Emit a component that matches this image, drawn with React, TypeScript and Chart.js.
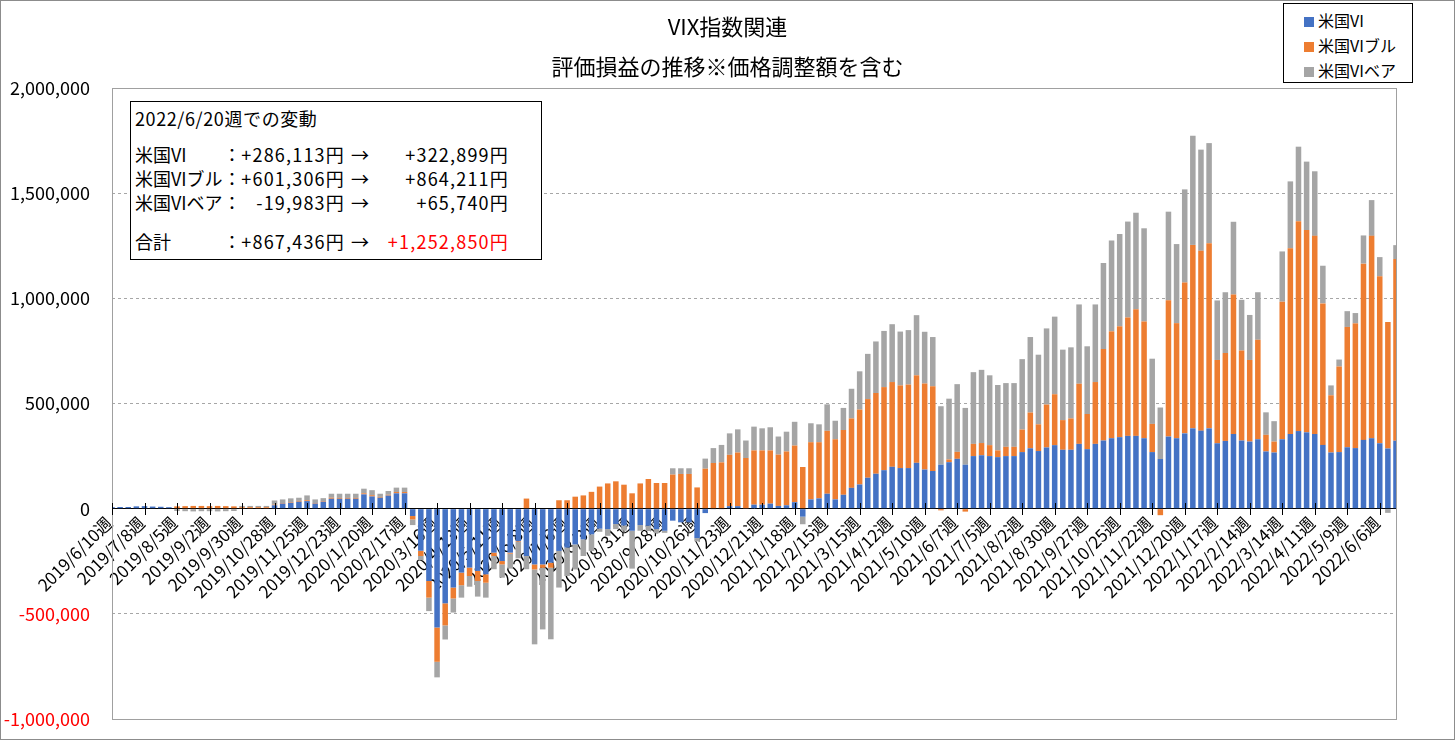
import { useEffect, useRef } from "react"
import { Chart, registerables } from "chart.js"

Chart.register(...registerables)

const FONT = "'Noto Sans CJK JP', 'Noto Sans', sans-serif"

// 週次カテゴリ（2019/6/10週〜2022/6/20週）
const categories: string[] = Array.from({ length: 159 }, (_, i) => {
  const d = new Date(Date.UTC(2019, 5, 10 + i * 7))
  return `${d.getUTCFullYear()}/${d.getUTCMonth() + 1}/${d.getUTCDate()}週`
})
const tickEvery = 4

const yTicks = [-1000000, -500000, 0, 500000, 1000000, 1500000, 2000000]

const seriesNames = ["米国VI", "米国VIブル", "米国VIベア"]
const seriesColors = ["#4472C4", "#ED7D31", "#A5A5A5"]

// 米国VI
const viValues = [
  7000, 8000, 8000, 11000, 12000, 10000, 9000, 7000, 0, 0,
  0, 0, 0, 0, 0, 0, 0, 0, 0, 0,
  16000, 24000, 28000, 33000, 36000, 24000, 33000, 47000, 47000, 47000,
  47000, 68000, 58000, 52000, 62000, 73000, 73000, -35000, -200000, -344000,
  -565000, -450000, -375000, -304000, -280000, -296000, -312000, -209000, -249000, -209000,
  -154000, -225000, -265000, -265000, -257000, -201000, -185000, -170000, -146000, -122000,
  -95000, -97000, -73000, -80000, -105000, -78000, -81000, -97000, -105000, -57000,
  -65000, -65000, -140000, -21000, -3000, -3000, 12000, 12000, 2000, 19000,
  19000, 24000, 13000, 16000, 31000, -38000, 44000, 49000, 71000, 44000,
  66000, 99000, 115000, 147000, 166000, 183000, 199000, 193000, 193000, 218000,
  186000, 179000, 209000, 221000, 237000, 209000, 250000, 254000, 250000, 245000,
  250000, 250000, 269000, 287000, 274000, 291000, 302000, 280000, 280000, 308000,
  283000, 308000, 324000, 335000, 340000, 346000, 346000, 335000, 269000, 236000,
  343000, 335000, 358000, 382000, 371000, 382000, 311000, 322000, 355000, 324000,
  319000, 330000, 272000, 267000, 330000, 355000, 369000, 363000, 355000, 303000,
  267000, 269000, 292000, 288000, 327000, 335000, 311000, 286113, 322899,
]

// 米国VIブル
const bullValues = [
  0, 0, 0, 0, 0, 0, 0, 0, 11000, 12000,
  13000, 13000, 12000, 13000, 12000, 11000, 7000, 7000, 7000, 7000,
  3000, 3000, 3000, 4000, 4000, 3000, 3000, 5000, 4000, 4000,
  4000, 5000, 6000, 4000, 4000, 6000, 6000, -16000, -25000, -79000,
  -163000, -105000, -52000, -60000, -40000, -48000, -40000, -16000, -16000, -5000,
  -3000, 48000, -24000, -16000, -24000, 40000, 40000, 57000, 63000, 80000,
  105000, 120000, 130000, 114000, 73000, 120000, 141000, 122000, 122000, 162000,
  165000, 165000, 101000, 190000, 217000, 220000, 244000, 255000, 239000, 258000,
  258000, 253000, 244000, 256000, 269000, 198000, 272000, 267000, 299000, 286000,
  308000, 330000, 356000, 374000, 384000, 395000, 403000, 393000, 397000, 416000,
  409000, 403000, -8000, 13000, 33000, -14000, 58000, 58000, 52000, 32000,
  44000, 44000, 107000, 170000, 127000, 204000, 242000, 141000, 149000, 286000,
  167000, 294000, 435000, 508000, 527000, 563000, 602000, 555000, 134000, -31000,
  648000, 547000, 717000, 872000, 855000, 880000, 396000, 418000, 663000, 428000,
  388000, 473000, 79000, 52000, 654000, 883000, 998000, 962000, 942000, 673000,
  272000, 407000, 572000, 593000, 838000, 962000, 794000, 601306, 864211,
]

// 米国VIベア
const bearValues = [
  0, 0, 0, 0, 0, 0, 0, 0, -11000, -12000,
  -13000, -12000, -12000, -13000, -12000, -11000, 6000, 6000, 6000, 6000,
  20000, 17000, 18000, 15000, 23000, 17000, 14000, 19000, 20000, 20000,
  20000, 22000, 24000, 15000, 18000, 21000, 21000, -27000, -20000, -64000,
  -74000, -67000, -67000, -59000, -51000, -74000, -71000, -63000, -63000, -71000,
  -79000, -63000, -356000, -293000, -340000, -174000, -135000, -119000, -79000, -79000,
  -15000, -32000, -24000, -25000, -180000, -27000, -25000, -20000, -10000, 30000,
  27000, 27000, -15000, 48000, 71000, 83000, 102000, 110000, 83000, 113000,
  105000, 110000, 86000, 94000, 113000, -36000, 90000, 85000, 126000, 88000,
  105000, 141000, 182000, 215000, 245000, 267000, 275000, 256000, 259000, 286000,
  246000, 234000, 278000, 289000, 322000, 270000, 341000, 348000, 332000, 311000,
  303000, 303000, 335000, 359000, 331000, 362000, 369000, 335000, 338000, 377000,
  322000, 369000, 409000, 432000, 439000, 456000, 459000, 443000, 310000, 245000,
  421000, 376000, 443000, 519000, 481000, 476000, 283000, 289000, 346000, 241000,
  214000, 226000, 107000, 97000, 239000, 318000, 354000, 325000, 307000, 179000,
  47000, 33000, 75000, 49000, 134000, 170000, 91000, -19983, 65740,
]

const summaryRows = [
  { label: "米国VI", from: "+286,113円", to: "+322,899円", red: false },
  { label: "米国VIブル", from: "+601,306円", to: "+864,211円", red: false },
  { label: "米国VIベア", from: "-19,983円", to: "+65,740円", red: false },
  { label: "合計", from: "+867,436円", to: "+1,252,850円", red: true },
]

const plotFrame = {
  id: "plotFrame",
  afterDraw(chart: any) {
    const { ctx, chartArea: a } = chart
    ctx.save()
    ctx.strokeStyle = "#A0A0A0"
    ctx.lineWidth = 1
    ctx.strokeRect(Math.round(a.left) + 0.5, Math.round(a.top) + 0.5, Math.round(a.width), Math.round(a.height))
    ctx.restore()
  },
}

// 0軸をまたぐ目盛り線
const crossTicks = {
  id: "crossTicks",
  afterDraw(chart: any) {
    const { ctx } = chart
    const x = chart.scales.x
    const y0 = Math.round(chart.scales.y.getPixelForValue(0))
    ctx.save()
    ctx.strokeStyle = "#000"
    ctx.lineWidth = 1
    ctx.beginPath()
    for (let i = 0; i < categories.length; i += tickEvery) {
      const px = Math.round(x.getPixelForValue(i)) + 0.5
      ctx.moveTo(px, y0 - 6)
      ctx.lineTo(px, y0 + 6)
    }
    ctx.stroke()
    ctx.restore()
  },
}

export default function App() {
  const canvasRef = useRef<HTMLCanvasElement>(null)
  const chartRef = useRef<Chart | null>(null)

  useEffect(() => {
    if (!canvasRef.current) return
    if (chartRef.current) chartRef.current.destroy()

    chartRef.current = new Chart(canvasRef.current, {
      type: "bar",
      data: {
        labels: categories,
        datasets: [viValues, bullValues, bearValues].map((values, i) => ({
          label: seriesNames[i],
          data: values,
          backgroundColor: seriesColors[i],
          borderWidth: 0,
        })),
      },
      options: {
        responsive: false,
        animation: false,
        layout: { padding: { left: 0, top: 88, right: 59, bottom: 21 } },
        datasets: { bar: { barPercentage: 0.68, categoryPercentage: 1 } },
        plugins: {
          legend: { display: false },
          tooltip: { enabled: false },
        },
        scales: {
          x: {
            type: "category",
            stacked: true,
            offset: false,
            position: { y: 0 },
            z: 1,
            grid: { display: true, drawOnChartArea: false, drawTicks: false },
            border: { display: true, color: "#000", width: 1 },
            ticks: {
              autoSkip: false,
              minRotation: 45,
              maxRotation: 45,
              padding: 4,
              labelOffset: -3,
              color: "#000",
              font: { family: FONT, size: 17 },
              callback: (_v: any, i: number) => (i % tickEvery === 0 ? categories[i] : ""),
            },
          },
          y: {
            stacked: true,
            min: yTicks[0],
            max: yTicks[yTicks.length - 1],
            afterFit: (s: any) => {
              s.width = 112
            },
            // 目盛り線は透明にして、ラベルとの間隔だけに使う
            grid: { color: "#A6A6A6", drawTicks: true, tickLength: 22, tickColor: "transparent" },
            border: { display: false, dash: [3, 3] },
            ticks: {
              stepSize: 500000,
              padding: 0,
              color: (c: any) => (c.tick && c.tick.value < 0 ? "#FF0000" : "#000"),
              font: { family: FONT, size: 18 },
              callback: (v: any) => Number(v).toLocaleString("en-US"),
            },
          },
        },
      },
      plugins: [plotFrame, crossTicks],
    })

    return () => {
      if (chartRef.current) {
        chartRef.current.destroy()
        chartRef.current = null
      }
    }
  }, [])

  const num = { letterSpacing: "1.2px" }

  return (
    <div
      style={{
        position: "fixed",
        left: 0,
        top: 0,
        width: 1455,
        height: 740,
        background: "#fff",
        fontFamily: FONT,
        color: "#000",
        overflow: "hidden",
      }}
    >
      <canvas ref={canvasRef} width={1455} height={740} style={{ position: "absolute", left: 0, top: 0 }} />

      <div style={{ position: "absolute", left: 0, top: 10, width: 1455, textAlign: "center", fontSize: 22, lineHeight: "30px" }}>
        VIX指数関連
      </div>
      <div style={{ position: "absolute", left: 0, top: 50, width: 1455, textAlign: "center", fontSize: 22, lineHeight: "30px" }}>
        評価損益の推移※価格調整額を含む
      </div>

      {/* 凡例 */}
      <div
        style={{
          position: "absolute",
          left: 1283,
          top: 3,
          width: 130,
          height: 80,
          boxSizing: "border-box",
          border: "1px solid #000",
          background: "#fff",
          fontSize: 16,
        }}
      >
        {seriesNames.map((name, i) => (
          <div key={name} style={{ position: "absolute", left: 20, top: 4 + i * 25, height: 24, lineHeight: "24px", whiteSpace: "nowrap" }}>
            <span
              style={{
                display: "inline-block",
                width: 10,
                height: 10,
                background: seriesColors[i],
                marginRight: 4,
                verticalAlign: "middle",
                position: "relative",
                top: -1,
              }}
            />
            {name}
          </div>
        ))}
      </div>

      {/* 変動テキストボックス */}
      <div
        style={{
          position: "absolute",
          left: 130,
          top: 101,
          width: 412,
          height: 159,
          boxSizing: "border-box",
          border: "1px solid #000",
          background: "#fff",
          fontSize: 18,
          lineHeight: "24px",
          whiteSpace: "nowrap",
        }}
      >
        <div style={{ position: "absolute", left: 4, top: 4, letterSpacing: "0.6px" }}>2022/6/20週での変動</div>
        {summaryRows.map((r, i) => {
          const top = i < 3 ? 40 + i * 24 : 127
          return (
            <div key={r.label} style={{ position: "absolute", left: 0, top, width: 412, height: 24 }}>
              <span style={{ position: "absolute", left: 4 }}>{r.label}</span>
              <span style={{ position: "absolute", left: 92 }}>：</span>
              <span style={{ position: "absolute", left: 100, width: 114, textAlign: "right", ...num }}>{r.from}</span>
              <span style={{ position: "absolute", left: 220 }}>→</span>
              <span style={{ position: "absolute", left: 238, width: 140, textAlign: "right", color: r.red ? "#FF0000" : "#000", ...num }}>
                {r.to}
              </span>
            </div>
          )
        })}
      </div>

      <div
        style={{
          position: "absolute",
          left: 0,
          top: 0,
          width: 1455,
          height: 740,
          boxSizing: "border-box",
          border: "1px solid #8C8C8C",
          pointerEvents: "none",
        }}
      />
    </div>
  )
}
